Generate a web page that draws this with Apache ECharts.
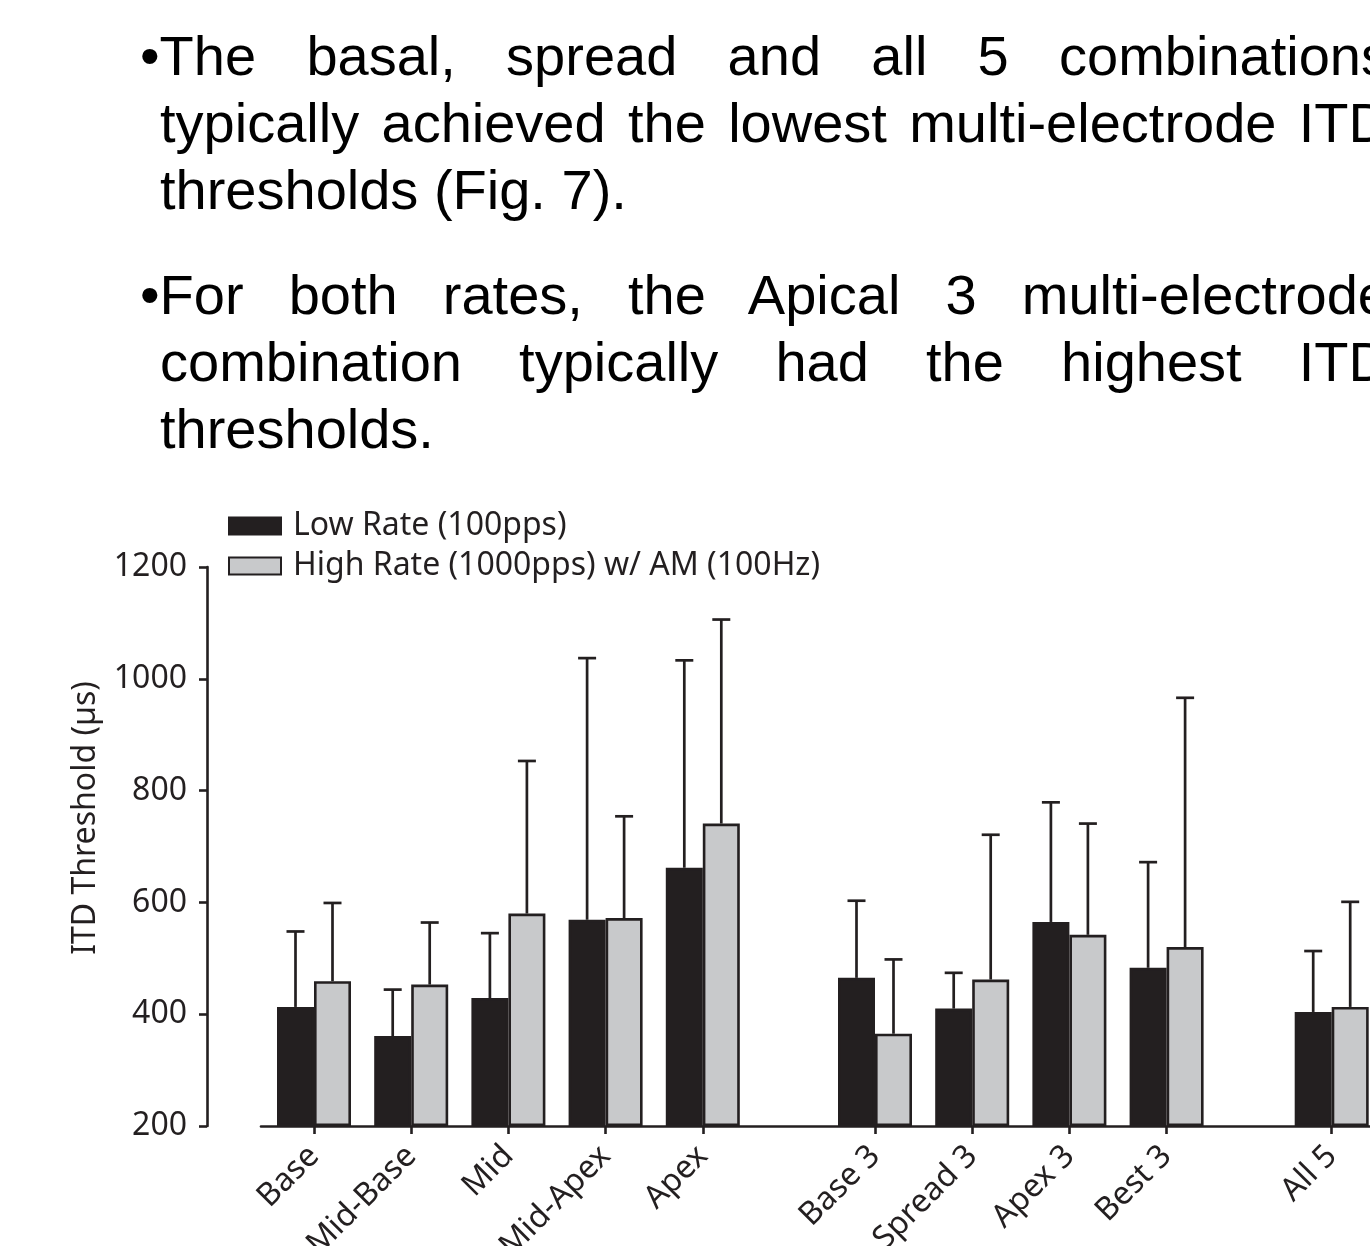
<!DOCTYPE html>
<html>
<head>
<meta charset="utf-8">
<title>ITD thresholds by electrode combination</title>
<script src="https://cdn.jsdelivr.net/npm/echarts@6/dist/echarts.min.js"></script>
<style>
  html, body { margin: 0; padding: 0; background: #fff; overflow: hidden; }
  #page { position: relative; width: 1370px; height: 1246px; overflow: hidden; }
  #chart { position: absolute; left: 0; top: 0; width: 1370px; height: 1246px; }
  #notes {
    position: absolute; left: 160px; top: 22px; width: 1229px;
    font-family: "Liberation Sans", Arial, sans-serif;
    font-size: 56px; line-height: 67px; color: #000;
  }
  #notes p { margin: 0; text-align: justify; text-indent: -20px; }
  #notes p + p { margin-top: 38px; }
</style>
</head>
<body>
<div id="page">
  <div id="chart"></div>
  <div id="notes">
    <p>&bull;The basal, spread and all 5 combinations typically achieved the lowest multi-electrode ITD thresholds (Fig. 7).</p>
    <p>&bull;For both rates, the Apical 3 multi-electrode combination typically had the highest ITD thresholds.</p>
  </div>
</div>
<script>
// Electrode configurations, in three groups along the x axis
const singleSites = ['Base', 'Mid-Base', 'Mid', 'Mid-Apex', 'Apex'];
const tripleSites = ['Base 3', 'Spread 3', 'Apex 3', 'Best 3'];
const allSites = ['All 5'];

// Mean ITD thresholds (µs) and standard deviations, in the order of the categories above
const lowRateMean  = [413, 361, 429, 569, 662, 465, 410, 565, 483, 404];
const lowRateSD    = [135,  83, 116, 468, 371, 138,  64, 214, 189, 109];
const highRateMean = [459, 453, 580, 572, 741, 365, 462, 542, 520, 413];
const highRateSD   = [140, 111, 273, 182, 365, 133, 259, 199, 446, 188];

const yTicks = [200, 400, 600, 800, 1000, 1200];

const LOW_NAME = 'Low Rate (100pps)';
const HIGH_NAME = 'High Rate (1000pps) w/ AM (100Hz)';
const INK = '#231f20';
const LIGHT = '#c8c9cb';
const FONT = '"Noto Sans", "Open Sans", sans-serif';

const PLOT_TOP = 567;
const PLOT_HEIGHT = 559;
const BAND = 97.2;
const BAR_W = 37;
const CAP_W = 18;
const groupLefts = [265.4, 826.4, 1283.1];
const groupCats = [singleSites, tripleSites, allSites];

const chart = echarts.init(document.getElementById('chart'), null, { renderer: 'canvas' });

// Whisker from the bar top up to mean + SD, with a horizontal cap
function whisker(side) {
  return function (params, api) {
    const idx = api.value(0);
    const base = api.coord([idx, api.value(1)]);
    const top = api.coord([idx, api.value(2)]);
    const x = base[0] + side * BAR_W / 2;
    const style = { stroke: INK, lineWidth: 2.7 };
    return {
      type: 'group',
      children: [
        { type: 'line', shape: { x1: x, y1: base[1], x2: x, y2: top[1] }, style: style },
        { type: 'line', shape: { x1: x - CAP_W / 2, y1: top[1], x2: x + CAP_W / 2, y2: top[1] }, style: style }
      ]
    };
  };
}

// Frame grid: carries the y axis (set off to the left) and the full-width baseline
const grids = [{ left: 261, top: PLOT_TOP, height: PLOT_HEIGHT, right: -120, outerBoundsMode: 'none', containLabel: false }];
const xAxes = [{
  type: 'value', gridIndex: 0, min: 0, max: 1,
  axisLine: { show: true, onZero: false, lineStyle: { color: INK, width: 2.6 } },
  axisTick: { show: false }, axisLabel: { show: false }, splitLine: { show: false }
}];
const yAxes = [{
  type: 'value', gridIndex: 0, min: yTicks[0], max: yTicks[yTicks.length - 1], interval: 200,
  offset: 54,
  axisLine: { show: true, onZero: false, lineStyle: { color: INK, width: 2.6 } },
  axisTick: { show: true, inside: false, length: 8, lineStyle: { color: INK, width: 2.6 } },
  axisLabel: {
    margin: 20, color: INK, fontSize: 32, fontFamily: FONT,
    formatter: function (v) { return String(v); }
  },
  splitLine: { show: false }
}];
const series = [];

let offset = 0;
groupCats.forEach(function (cats, g) {
  const gi = g + 1;
  grids.push({
    left: groupLefts[g], top: PLOT_TOP, height: PLOT_HEIGHT, width: cats.length * BAND,
    outerBoundsMode: 'none', containLabel: false
  });
  xAxes.push({
    type: 'category', gridIndex: gi, data: cats,
    axisLine: { show: false },
    axisTick: { show: true, alignWithLabel: true, length: 8, lineStyle: { color: INK, width: 2.6 } },
    axisLabel: { interval: 0, rotate: 45, margin: 25, color: INK, fontSize: 32, fontFamily: FONT },
    splitLine: { show: false }
  });
  yAxes.push({
    type: 'value', gridIndex: gi, min: yTicks[0], max: yTicks[yTicks.length - 1],
    startValue: yTicks[0], show: false
  });

  const lowM = lowRateMean.slice(offset, offset + cats.length);
  const lowS = lowRateSD.slice(offset, offset + cats.length);
  const highM = highRateMean.slice(offset, offset + cats.length);
  const highS = highRateSD.slice(offset, offset + cats.length);
  offset += cats.length;

  series.push({
    name: LOW_NAME, type: 'bar', xAxisIndex: gi, yAxisIndex: gi,
    data: lowM, barWidth: BAR_W, barGap: '0%', z: 3,
    itemStyle: { color: INK, borderColor: INK, borderWidth: 2.6 }
  });
  series.push({
    name: HIGH_NAME, type: 'bar', xAxisIndex: gi, yAxisIndex: gi,
    data: highM, barWidth: BAR_W, barGap: '0%', z: 3,
    itemStyle: { color: LIGHT, borderColor: INK, borderWidth: 2.6 }
  });
  series.push({
    name: 'low-sd-' + g, type: 'custom', xAxisIndex: gi, yAxisIndex: gi, z: 2, clip: false,
    renderItem: whisker(-1), encode: { x: 0, y: [1, 2] },
    data: lowM.map(function (m, i) { return [i, m, m + lowS[i]]; })
  });
  series.push({
    name: 'high-sd-' + g, type: 'custom', xAxisIndex: gi, yAxisIndex: gi, z: 2, clip: false,
    renderItem: whisker(1), encode: { x: 0, y: [1, 2] },
    data: highM.map(function (m, i) { return [i, m, m + highS[i]]; })
  });
});

chart.setOption({
  backgroundColor: '#fff',
  animation: false,
  legend: {
    data: [LOW_NAME, HIGH_NAME],
    orient: 'vertical', left: 228, top: 510, padding: 0,
    icon: 'rect', itemWidth: 52, itemHeight: 17, itemGap: 8,
    selectedMode: false,
    textStyle: { color: INK, fontSize: 32, fontFamily: FONT, lineHeight: 32, padding: [0, 0, 0, 7] }
  },
  grid: grids,
  xAxis: xAxes,
  yAxis: yAxes,
  series: series,
  graphic: [{
    type: 'text', x: 86, y: 818, rotation: Math.PI / 2,
    style: {
      text: 'ITD Threshold (µs)', fill: INK, fontSize: 32, fontFamily: FONT,
      align: 'center', verticalAlign: 'middle'
    }
  }]
});
</script>
</body>
</html>
